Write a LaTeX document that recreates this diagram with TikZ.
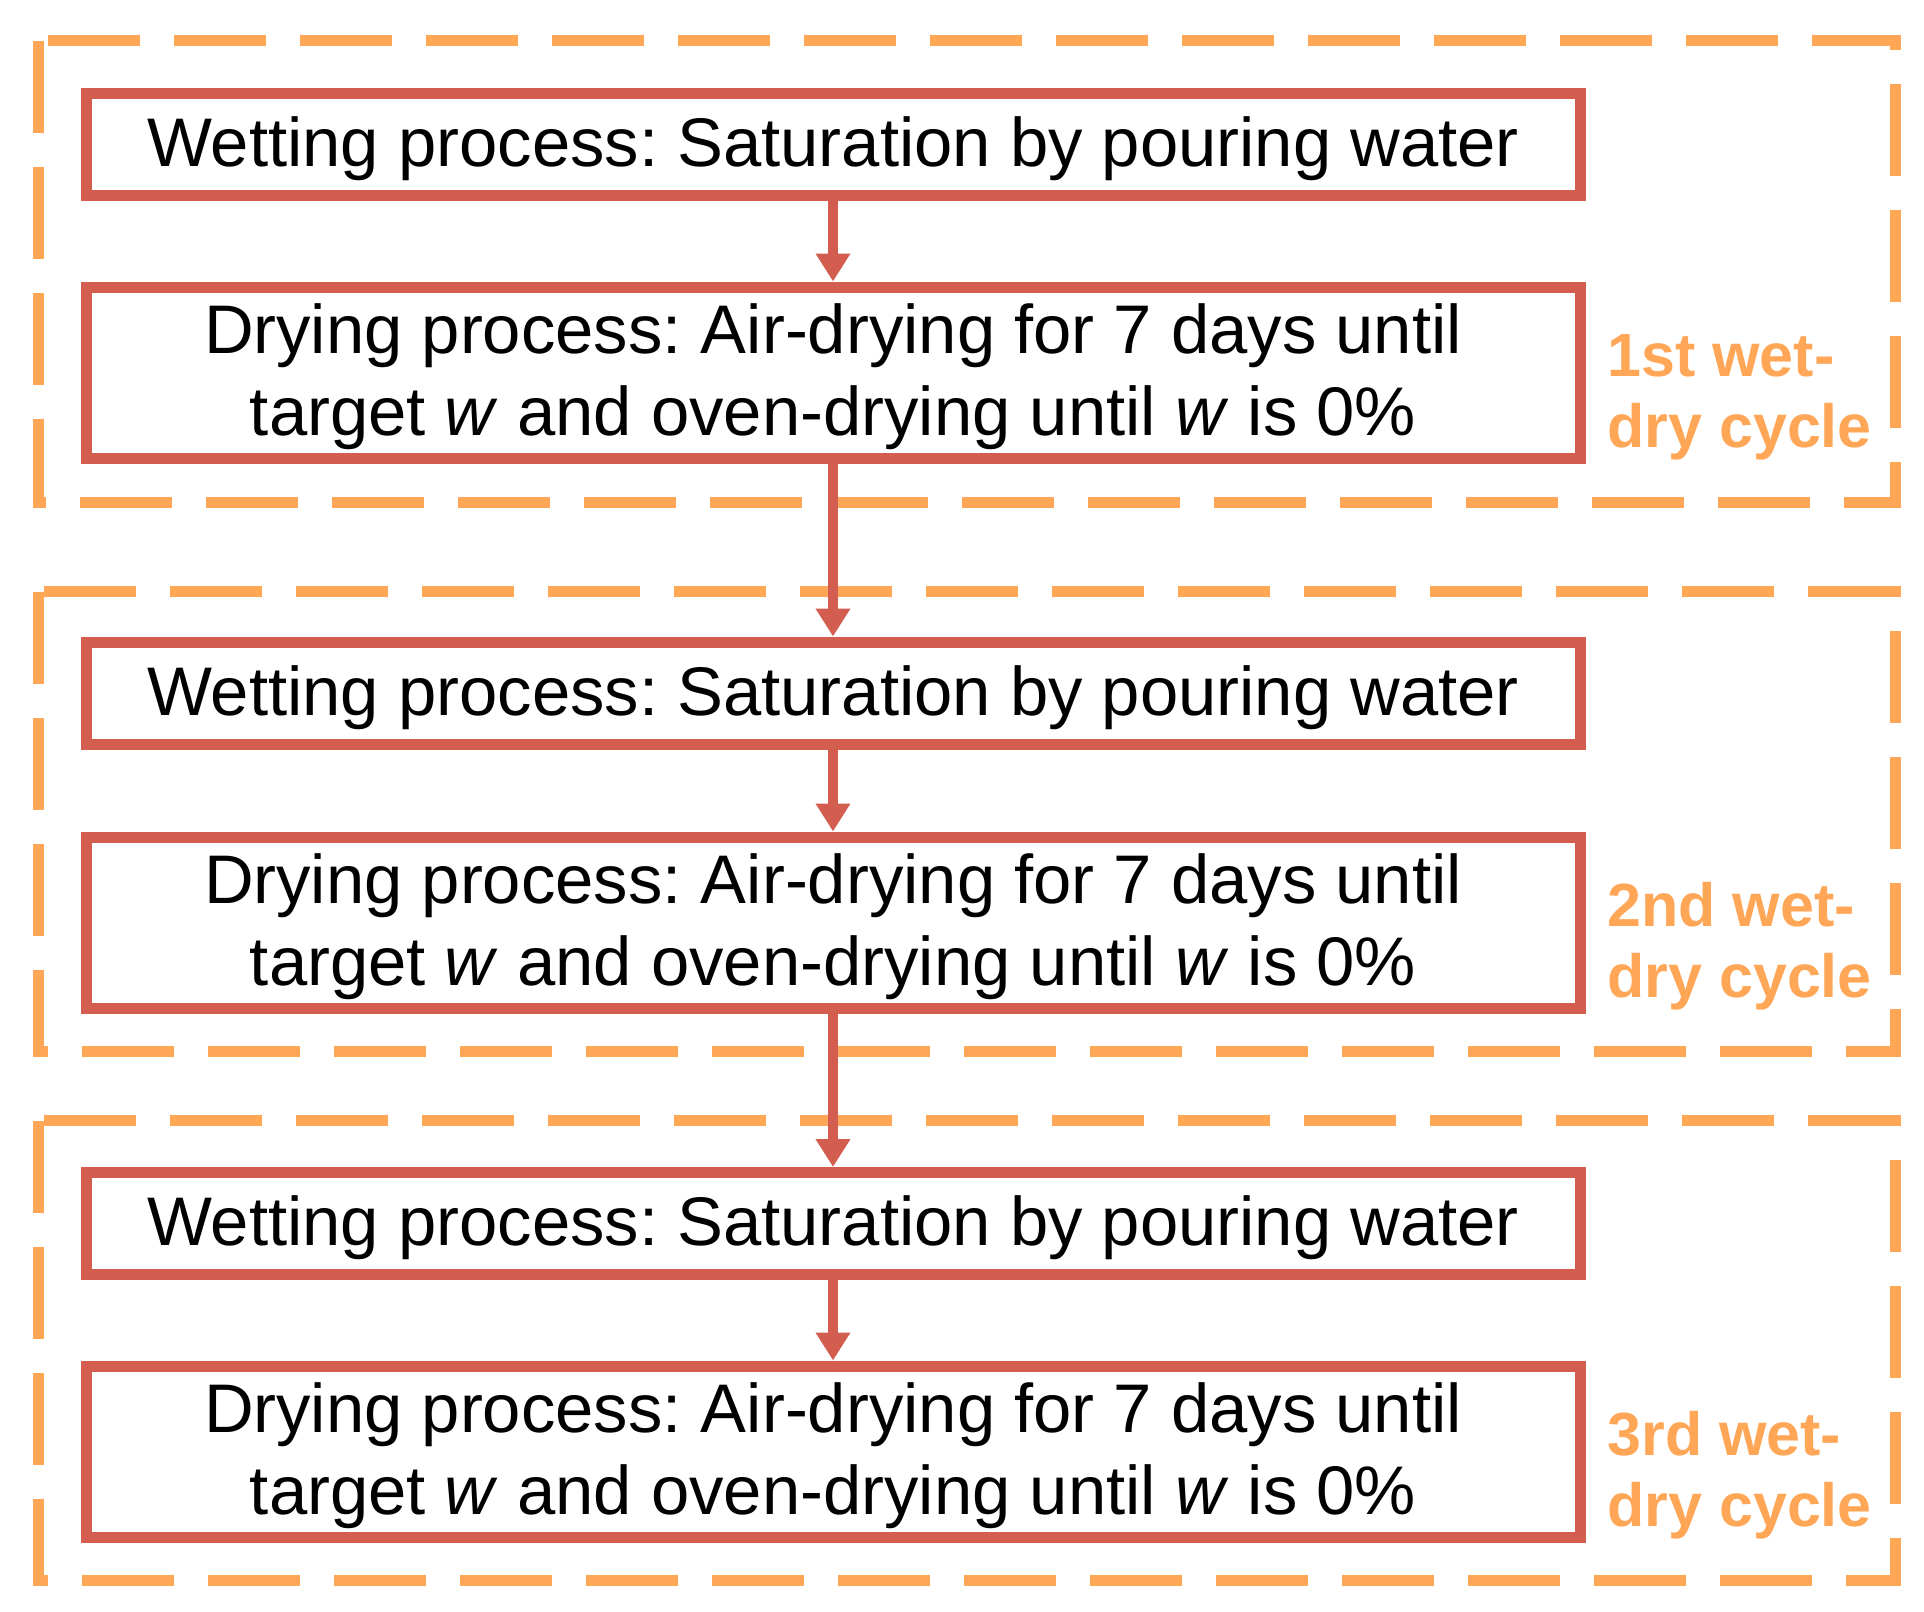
\documentclass[tikz,border=0pt]{standalone}
\usepackage{fontspec}
\setmainfont{Liberation Sans}
\usetikzlibrary{arrows.meta}
\definecolor{boxred}{HTML}{D35E50}
\definecolor{cycorange}{HTML}{FFA657}
\newcommand{\toplift}{\rule{0pt}{0.85em}}
\begin{document}
\frenchspacing
\begin{tikzpicture}[x=0.5pt,y=-0.5pt,
  cyclebox/.style={draw=cycorange, line width=5.5pt, dash pattern=on 46pt off 17pt},
  procbox/.style={draw=boxred, line width=5.5pt, fill=white, minimum width=747pt, inner sep=0pt, align=center, font=\fontsize{34.4}{41}\selectfont},
  wetbox/.style={procbox, minimum height=51pt},
  drybox/.style={procbox, minimum height=85.5pt},
  flow/.style={draw=boxred, line width=5pt, -{Triangle[width=16.5pt,length=14pt]}},
  cyclelabel/.style={text=cycorange, font=\fontsize{30.5}{35.5}\selectfont\bfseries, align=left, anchor=base west, inner sep=0pt}
]
\fill[white] (0,0) rectangle (1924,1612);
\useasboundingbox (0,0) rectangle (1924,1612);

% cycle frames
\draw[cyclebox] (38,40.5) rectangle (1895,502.5);
\draw[cyclebox] (38,591.5) rectangle (1895,1051.5);
\draw[cyclebox] (38,1120.5) rectangle (1895,1580.5);

% process boxes
\node[wetbox] (b1) at (833,144) {\toplift Wetting process: Saturation by pouring water};
\node[drybox] (b2) at (833,372.5) {\toplift Drying process: Air-drying for 7 days until\\target \textit{w} and oven-drying until \textit{w} is 0\%};
\node[wetbox] (b3) at (833,693) {\toplift Wetting process: Saturation by pouring water};
\node[drybox] (b4) at (833,922.5) {\toplift Drying process: Air-drying for 7 days until\\target \textit{w} and oven-drying until \textit{w} is 0\%};
\node[wetbox] (b5) at (833,1223.5) {\toplift Wetting process: Saturation by pouring water};
\node[drybox] (b6) at (833,1451.5) {\toplift Drying process: Air-drying for 7 days until\\target \textit{w} and oven-drying until \textit{w} is 0\%};

% labels (base anchor = baseline of the last line)
\node[cyclelabel] (l1) at (1607,447.5) {1st wet-\\dry cycle};
\node[cyclelabel] (l2) at (1607,997.5) {2nd wet-\\dry cycle};
\node[cyclelabel] (l3) at (1607,1526.5) {3rd wet-\\dry cycle};

% arrows
\draw[flow] (b1.south) -- (b2.north);
\draw[flow] (b2.south) -- (b3.north);
\draw[flow] (b3.south) -- (b4.north);
\draw[flow] (b4.south) -- (b5.north);
\draw[flow] (b5.south) -- (b6.north);
\end{tikzpicture}
\end{document}
